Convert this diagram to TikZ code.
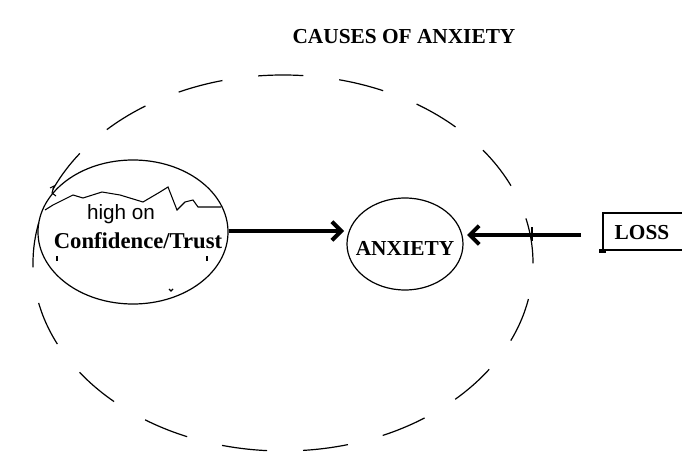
\documentclass[tikz,border=0pt]{standalone}
\usepackage{fontspec}
\setmainfont{Liberation Serif}
\newfontfamily\lsans{Liberation Sans}
\usetikzlibrary{shapes.geometric,arrows.meta}
\tikzset{
  ring/.style={draw, ellipse, inner sep=0pt, line width=0.9pt},
  bigring/.style={ring, dash pattern=on 34pt off 27pt},
  lbl/.style={font=\bfseries\fontsize{16}{18}\selectfont, inner sep=0pt},
  thickarrow/.style={line width=3pt, -{Straight Barb[length=7pt,width=14pt,line width=3pt]}},
  scrib/.style={line width=0.8pt}
}
\begin{document}
\begin{tikzpicture}[x=0.75pt,y=-0.75pt]
\useasboundingbox[fill=white] (0,0) rectangle (682,460);
% title
\node[lbl] (title) at (404,37) {CAUSES OF ANXIETY};
% big dashed ellipse
\node[bigring, minimum width=375pt, minimum height=282pt] (outer) at (283,263) {};
% left ellipse
\node[ring, minimum width=142.5pt, minimum height=108pt] (conf) at (133,232) {};
\draw[scrib] (45,210) -- (53,205) -- (73,195) -- (83,198) -- (102,192) -- (120,195) -- (143,202) -- (160,192) -- (168,187) -- (177,210) -- (185,202) -- (193,200) -- (198,207) -- (221,207);
\draw[scrib] (50,188) -- (54,186) -- (52,193) -- (56,196);
\draw[scrib] (57,256) -- (57,261);
\draw[scrib] (207,256) -- (207,261);
\draw[scrib] (169,289) -- (171,291) -- (173,289);
\node[font=\lsans\fontsize{15.5}{17}\selectfont, inner sep=0pt] (high) at (121,214) {high on};
\node[font=\bfseries\fontsize{17}{19}\selectfont, inner sep=0pt] (conftext) at (138,241) {Confidence/Trust};
% anxiety ellipse
\node[ring, minimum width=87pt, minimum height=69pt] (anx) at (405,244) {};
\node[lbl] (anxtext) at (405,248) {ANXIETY};
% arrow from confidence
\draw[thickarrow] (conf.east |- 0,231) -- (344,231);
% loss box
\node[draw, line width=0.9pt, minimum width=67.5pt, minimum height=27.75pt, inner sep=0pt] (loss) at (648,231.5) {};
\node[lbl] (losstext) at (642,233) {LOSS};
\fill (loss.south west) ++(-3,-2) rectangle ++(7,4);
% arrow into anxiety
\coordinate (lossin) at (581,235);
\draw[thickarrow] (lossin) -- (467,235);
\draw[line width=0.8pt] (532,227) -- (532,241);
\end{tikzpicture}
\end{document}
